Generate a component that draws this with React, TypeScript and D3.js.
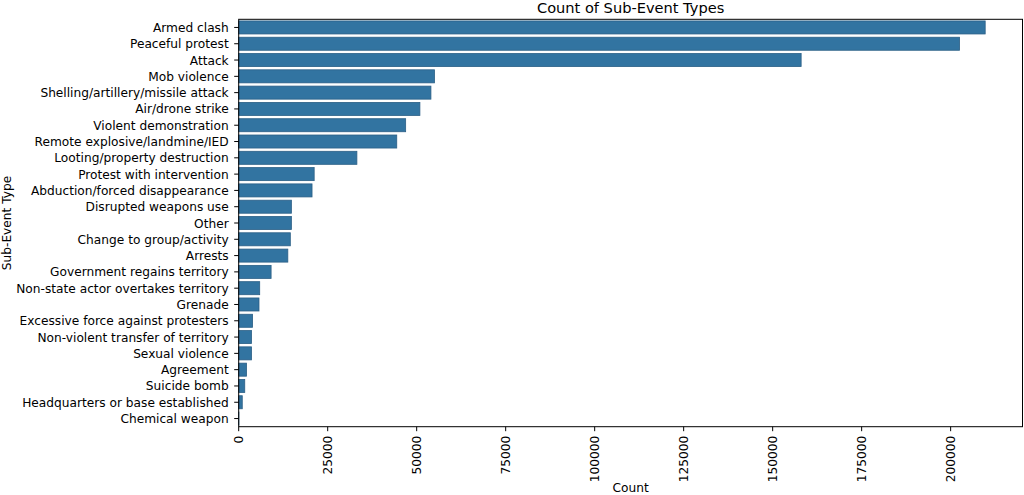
import React from "react";
import * as d3 from "d3";

const categories = [
  "Armed clash",
  "Peaceful protest",
  "Attack",
  "Mob violence",
  "Shelling/artillery/missile attack",
  "Air/drone strike",
  "Violent demonstration",
  "Remote explosive/landmine/IED",
  "Looting/property destruction",
  "Protest with intervention",
  "Abduction/forced disappearance",
  "Disrupted weapons use",
  "Other",
  "Change to group/activity",
  "Arrests",
  "Government regains territory",
  "Non-state actor overtakes territory",
  "Grenade",
  "Excessive force against protesters",
  "Non-violent transfer of territory",
  "Sexual violence",
  "Agreement",
  "Suicide bomb",
  "Headquarters or base established",
  "Chemical weapon",
];

const counts = [
  209700, 202500, 158000, 55000, 54000, 50900, 46900, 44400, 33200, 21200,
  20600, 14800, 14800, 14500, 13800, 9100, 5900, 5700, 3900, 3600, 3600, 2200,
  1700, 1000, 60,
];

const xTicks = [0, 25000, 50000, 75000, 100000, 125000, 150000, 175000, 200000];

const W = 1024;
const H = 495;
const left = 238.7;
const right = 1022.5;
const top = 19.3;
const bottom = 426.7;
const FONT = "DejaVu Sans, sans-serif";
const FS = 12.2;

export default function App() {
  const maxV = d3.max(counts) as number;
  const x = d3.scaleLinear().domain([0, maxV * 1.05]).range([left, right]);
  const y = d3
    .scaleBand<string>()
    .domain(categories)
    .range([top, bottom])
    .paddingInner(0.2)
    .paddingOuter(0.1);
  const band = d3.scaleBand<string>().domain(categories).range([top, bottom]);

  return (
    <div style={{ position: "absolute", left: 0, top: 0 }}>
      <svg width={W} height={H} style={{ display: "block", background: "#fff" }}>
        {categories.map((c, i) => (
          <rect
            key={c}
            x={x(0)}
            y={y(c)}
            width={x(counts[i]) - x(0)}
            height={y.bandwidth()}
            fill="#3274a1"
            stroke="#2b5f86"
            strokeWidth={0.8}
          />
        ))}
        <rect
          x={left}
          y={top}
          width={right - left}
          height={bottom - top}
          fill="none"
          stroke="#000"
          strokeWidth={1}
        />
        {categories.map((c) => {
          const cy = (band(c) as number) + band.bandwidth() / 2;
          return (
            <g key={c}>
              <line x1={left - 4.5} x2={left} y1={cy} y2={cy} stroke="#000" strokeWidth={1} />
              <text
                x={left - 10}
                y={cy + 0.5}
                textAnchor="end"
                dominantBaseline="central"
                fontFamily={FONT}
                fontSize={FS}
                fill="#000"
              >
                {c}
              </text>
            </g>
          );
        })}
        {xTicks.map((t) => (
          <g key={t}>
            <line x1={x(t)} x2={x(t)} y1={bottom} y2={bottom + 4.5} stroke="#000" strokeWidth={1} />
            <text
              transform={`translate(${x(t)},${bottom + 9}) rotate(-90)`}
              textAnchor="end"
              dominantBaseline="central"
              fontFamily={FONT}
              fontSize={FS}
              fill="#000"
            >
              {t}
            </text>
          </g>
        ))}
        <text
          x={(left + right) / 2}
          y={13}
          textAnchor="middle"
          fontFamily={FONT}
          fontSize={14.6}
          fill="#000"
        >
          Count of Sub-Event Types
        </text>
        <text
          x={(left + right) / 2}
          y={492}
          textAnchor="middle"
          fontFamily={FONT}
          fontSize={FS}
          fill="#000"
        >
          Count
        </text>
        <text
          transform={`translate(11,${(top + bottom) / 2}) rotate(-90)`}
          textAnchor="middle"
          fontFamily={FONT}
          fontSize={FS}
          fill="#000"
        >
          Sub-Event Type
        </text>
      </svg>
    </div>
  );
}
